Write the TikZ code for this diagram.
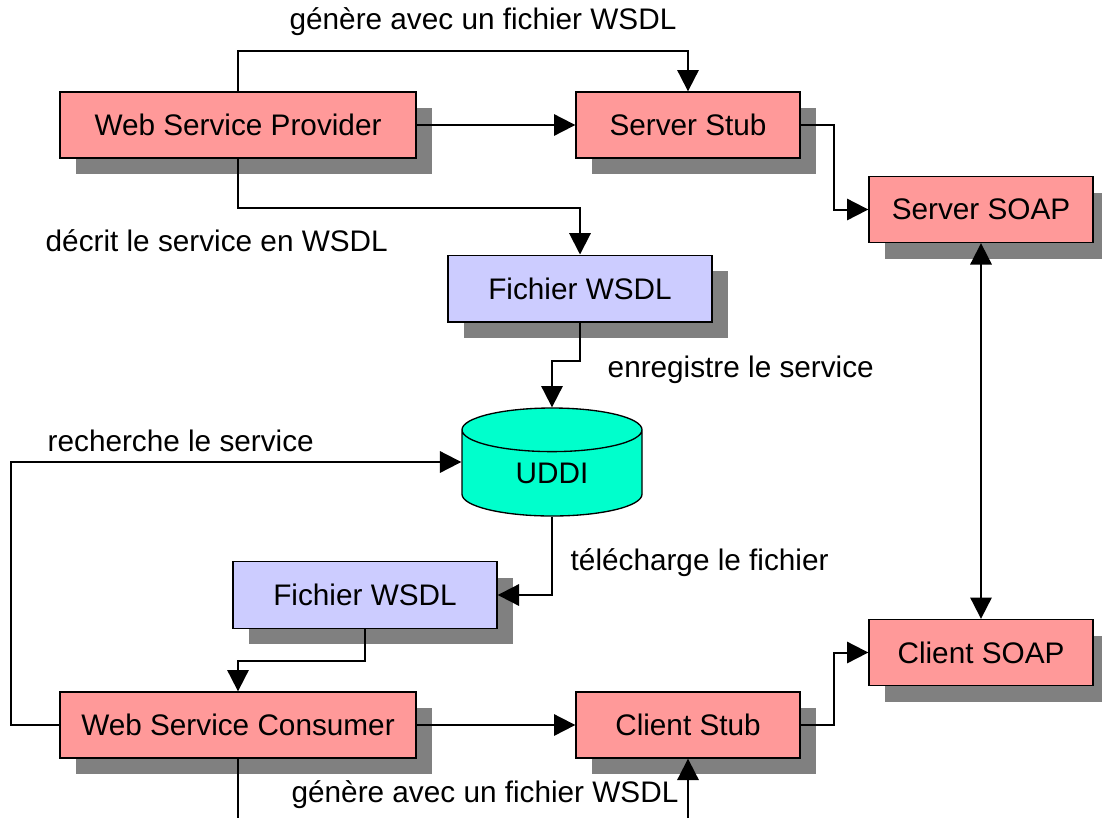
\documentclass[tikz,border=0pt]{standalone}
\usepackage{fontspec}
\setmainfont{Liberation Sans}
\usetikzlibrary{arrows.meta,shadows,shapes.geometric}
\definecolor{boxpink}{HTML}{FF9999}
\definecolor{boxblue}{HTML}{CCCCFF}
\definecolor{uddigreen}{HTML}{00FFCC}
\definecolor{shadowgray}{HTML}{808080}
\tikzset{
	every node/.style={font=\fontsize{22.3}{26}\selectfont},
	shadowed/.style={drop shadow={shadow xshift=12pt,shadow yshift=-12pt,fill=shadowgray,opacity=1}},
	bigbox/.style={draw,line width=1pt,fill=boxpink,shadowed,minimum width=267pt,minimum height=49.5pt,inner sep=0pt},
	smallbox/.style={draw,line width=1pt,fill=boxpink,shadowed,minimum width=168pt,minimum height=49.5pt,inner sep=0pt},
	wsdlbox/.style={draw,line width=1pt,fill=boxblue,shadowed,minimum width=198pt,minimum height=50pt,inner sep=0pt},
	arr/.style={line width=1.5pt,-{Triangle[length=16pt,width=16pt]}},
	dblarr/.style={line width=1.5pt,{Triangle[length=16pt,width=16pt]}-{Triangle[length=16pt,width=16pt]}},
	line/.style={line width=1.5pt}
}

\begin{document}
\begin{tikzpicture}[x=0.75pt,y=-0.75pt]
			%%%%% START %%%%%
			
			\fill[white] (0,0) rectangle (1102,818);
			\useasboundingbox (0,0) rectangle (1102,818);
			
			\node[bigbox] (prov) at (238,125) {Web Service Provider};
			\node[smallbox] (sstub) at (688,125) {Server Stub};
			\node[smallbox] (ssoap) at (981,209.5) {Server SOAP};
			\node[wsdlbox] (wsdlA) at (580,288.5) {Fichier WSDL};
			
			\node[cylinder,shape border rotate=90,aspect=0.6,draw,line width=1pt,fill=uddigreen,
				minimum width=135pt,minimum height=81pt,inner sep=0pt,anchor=shape center] (uddi) at (552,462) {UDDI};
			
			\node[wsdlbox] (wsdlB) at (365,595) {Fichier WSDL};
			\node[bigbox] (cons) at (238,725) {Web Service Consumer};
			\node[smallbox] (cstub) at (688,725) {Client Stub};
			\node[smallbox] (csoap) at (981,652.5) {Client SOAP};
			
			\node (genA) at (483,22) {génère avec un fichier WSDL};
			\node[anchor=west] (decrit) at (41,241) {décrit le service en WSDL};
			\node[anchor=west] (enreg) at (603,370) {enregistre le service};
			\node[anchor=west] (rech) at (43,441) {recherche le service};
			\node[anchor=west] (telech) at (566,563) {télécharge le fichier};
			\node (genB) at (485,795) {génère avec un fichier WSDL};
			
			\coordinate (consout) at (238,818);
			\coordinate (genin) at (688,818);
			
			\draw[arr] (prov.north) -- ++(0,-40) -| (sstub.north);
			\draw[arr] (prov) -- (sstub);
			\draw[arr] (sstub.east) -- ++(33,0) |- (ssoap.west);
			\draw[arr] (prov.south) -- ++(0,49) -| (wsdlA.north);
			\draw[arr] (wsdlA.south) -- ++(0,38) -| (uddi.north);
			\draw[arr] (cons.west) -- ++(-48,0) |- (uddi.shape center -| uddi.west);
			\draw[arr] (uddi.south) |- (wsdlB.east);
			\draw[arr] (wsdlB.south) -- ++(0,32) -| (cons.north);
			\draw[arr] (cons) -- (cstub);
			\draw[arr] (cstub.east) -- ++(33,0) |- (csoap.west);
			\draw[dblarr] (ssoap) -- (csoap);
			\draw[line] (cons.south) -- (consout);
			\draw[arr] (genin) -- (cstub.south);
			
			%%%%% END %%%%%
		\end{tikzpicture}
\end{document}
